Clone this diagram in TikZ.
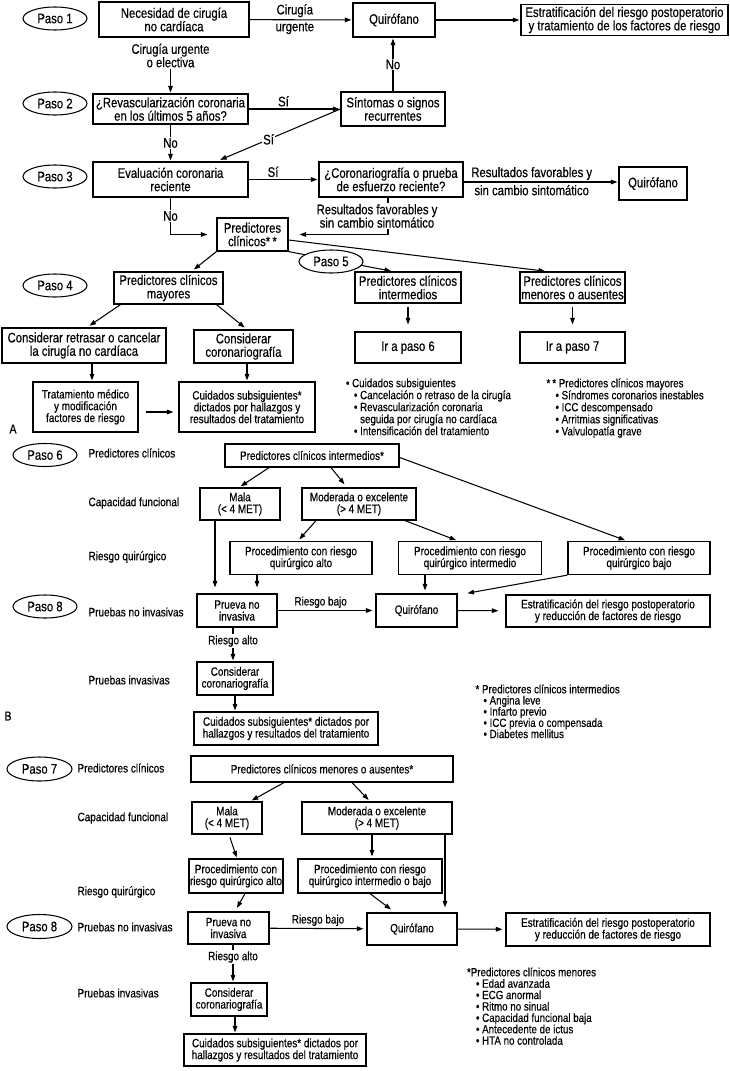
\documentclass[tikz,border=0pt]{standalone}
\usepackage{fontspec}
\setmainfont[FakeStretch=0.82,FakeBold=0.4]{Liberation Sans}
\usetikzlibrary{arrows.meta,shapes.geometric,calc}
\newcommand{\fA}{\fontsize{13.8}{13.4}\selectfont}
\newcommand{\fB}{\fontsize{12.1}{11.8}\selectfont}
\newcommand{\fS}{\fontsize{12.2}{13}\selectfont}
\newcommand{\fL}{\fontsize{11.9}{12}\selectfont}
\newcommand{\fM}{\fontsize{11.9}{11.2}\selectfont}
\begin{document}
\begin{tikzpicture}[x=1pt,y=-1pt,line width=1.05pt,
  arr/.style={-{Triangle[length=6.5pt,width=4.6pt]},shorten >=1pt},
  boxA/.style 2 args={draw,line width=1.2pt,align=center,inner sep=1pt,minimum width=#1pt,minimum height=#2pt,font=\fA},
  boxB/.style 2 args={draw,line width=1.2pt,align=center,inner sep=1pt,minimum width=#1pt,minimum height=#2pt,font=\fB},
  paso/.style={draw,ellipse,line width=1.05pt,fill=white,inner sep=0pt,minimum width=64pt,minimum height=23pt,font=\fA},
  lblA/.style={font=\fA,align=center,inner sep=1pt},
  lblB/.style={font=\fB,align=center,inner sep=1pt},
  side/.style={font=\fS,anchor=west,inner sep=0pt},
  lst/.style={font=\fL,align=left,anchor=north west,inner sep=0pt}]
\fill[white] (0,0) rectangle (730,1071);
\useasboundingbox (0,0) rectangle (730,1071);

% ---------------- Part A ----------------
\node[paso] (p1) at (55,18.5) {Paso 1};
\node[boxA={150}{35}] (nec) at (174,19.5) {Necesidad de cirugía\\no cardíaca};
\node[boxA={82}{34}] (q1) at (394,20) {Quirófano};
\node[boxA={207}{31}] (est1) at (624.5,20) {Estratificación del riesgo postoperatorio\\y tratamiento de los factores de riesgo};
\draw[arr] (nec) -- (q1) node[lblA,pos=0.44,above=1pt]{Cirugía} node[lblA,pos=0.44,below=1pt]{urgente};
\draw[arr] (q1) -- (est1);
\node[lblA] (l1) at (170.5,55.5) {Cirugía urgente\\o electiva};

\node[paso] (p2) at (55,103.5) {Paso 2};
\node[boxA={155}{30}] (rev) at (170.5,109) {¿Revascularización coronaria\\en los últimos 5 años?};
\node[boxA={104}{34}] (sin) at (393,109) {Síntomas o signos\\recurrentes};
\draw[arr] (l1.south) -- (rev.north);
\draw[arr] (rev) -- (sin) node[lblA,pos=0.38,above=1pt]{Sí};
\draw[arr] (sin.north) -- (sin.north |- q1.south) node[lblA,midway,fill=white]{No};

\node[paso] (p3) at (55,176.5) {Paso 3};
\node[boxA={155}{35}] (eva) at (170.5,179.5) {Evaluación coronaria\\reciente};
\node[boxA={144}{35}] (cor) at (391,179.5) {¿Coronariografía o prueba\\de esfuerzo reciente?};
\node[boxA={68}{33}] (q2) at (653,183.5) {Quirófano};
\draw[arr,shorten >=4pt] (sin.west) -- ([xshift=46pt]eva.north) node[lblA,pos=0.58,fill=white]{Sí};
\draw[arr] (rev) -- (eva) node[lblA,midway,fill=white]{No};
\draw[arr] (eva) -- (cor) node[lblA,pos=0.35,above=1pt]{Sí};
\coordinate (c1) at ([yshift=-2.5pt]cor.east);
\draw[arr] (c1) -- (c1 -| q2.west) node[lblA,pos=0.44,above=0.5pt]{Resultados favorables y} node[lblA,pos=0.44,below=1.5pt]{sin cambio sintomático};

\node[boxA={71}{33}] (pc) at (252.5,234.5) {Predictores\\clínicos*\,*};
\draw[arr,shorten >=11pt] ([xshift=-3pt]cor.south) |- (pc.east);
\node[lblA,fill=white] (l2) at (377,216) {Resultados favorables y\\sin cambio sintomático};
\draw[arr,shorten >=9pt] (eva.south) |- (pc.west) node[lblA,pos=0.25,fill=white]{No};

\node[boxA={109}{32}] (may) at (168.5,288) {Predictores clínicos\\mayores};
\node[boxA={106}{31}] (int) at (408,287.5) {Predictores clínicos\\intermedios};
\node[boxA={105}{31}] (men) at (572.5,287.5) {Predictores clínicos\\menores o ausentes};
\draw[arr,shorten >=3pt] (pc.south west) -- ([xshift=23pt]may.north);
\draw[arr,shorten >=2pt] ([yshift=-5.5pt]pc.east) -- ([xshift=-25.5pt]men.north);
\draw[arr,shorten >=2pt] (pc.south east) -- ([xshift=-15pt]int.north);
\node[paso] (p5) at (331,261.5) {Paso 5};
\node[paso] (p4) at (55,285.5) {Paso 4};

\node[boxA={106}{31}] (ir6) at (408,347.5) {Ir a paso 6};
\node[boxA={105}{31}] (ir7) at (572.5,347.5) {Ir a paso 7};
\draw[arr,shorten <=3pt,shorten >=7pt] (int) -- (ir6);
\draw[arr,shorten <=3pt,shorten >=7pt] (men) -- (ir7);

\node[boxA={164}{35}] (ret) at (84,345.5) {Considerar retrasar o cancelar\\la cirugía no cardíaca};
\node[boxA={99}{33}] (ccor) at (243.5,346.5) {Considerar\\coronariografía};
\draw[arr,shorten >=3pt] ([xshift=-48pt]may.south) -- ([xshift=3pt]ret.north);
\draw[arr,shorten >=3pt] ([xshift=48pt]may.south) -- ([xshift=3.5pt]ccor.north);

\node[boxB={105}{50}] (trat) at (85.5,407) {Tratamiento médico\\y modificación\\factores de riesgo};
\node[boxB={136}{50}] (cuid) at (247,407) {Cuidados subsiguientes*\\dictados por hallazgos y\\resultados del tratamiento};
\draw[arr] ([xshift=8pt]ret.south) -- ([xshift=6.5pt]trat.north);
\draw[arr] ([xshift=3.5pt]ccor.south) -- (cuid.north);
\draw[arr,shorten <=7pt,shorten >=5pt] ([yshift=-5pt]trat.east) -- ([yshift=-5pt]cuid.west);

\node[font=\fontsize{13}{13}\selectfont,inner sep=0pt] (labA) at (13,429) {A};

\node[lst] (lsa) at (345.5,378) {• Cuidados subsiguientes\\
\hspace*{8pt}• Cancelación o retraso de la cirugía\\
\hspace*{8pt}• Revascularización coronaria\\
\hspace*{8pt}\phantom{• }seguida por cirugía no cardíaca\\
\hspace*{8pt}• Intensificación del tratamiento};
\node[lst] (lsb) at (546,378) {*\,* Predictores clínicos mayores\\
\hspace*{9pt}• Síndromes coronarios inestables\\
\hspace*{9pt}• ICC descompensado\\
\hspace*{9pt}• Arritmias significativas\\
\hspace*{9pt}• Valvulopatía grave};

% ---------------- Part B ----------------
\node[paso] (p6) at (45,455) {Paso 6};
\node[side] (sb1) at (88,453) {Predictores clínicos};
\node[side] (sb2) at (88,503) {Capacidad funcional};
\node[side] (sb3) at (88,557) {Riesgo quirúrgico};
\node[side] (sb4) at (88,612) {Pruebas no invasivas};
\node[side] (sb5) at (88,680) {Pruebas invasivas};

\node[boxB={174}{23}] (pci) at (312,455.5) {Predictores clínicos intermedios*};
\node[boxB={80}{32}] (malaB) at (240,504) {Mala\\(< 4 MET)};
\node[boxB={114}{32}] (modB) at (359,504) {Moderada o excelente\\(> 4 MET)};
\node[boxB={142}{33}] (paltB) at (301,558) {Procedimiento con riesgo\\quirúrgico alto};
\node[boxB={143}{33}] (pintB) at (470,558) {Procedimiento con riesgo\\quirúrgico intermedio};
\node[boxB={142}{33}] (pbajB) at (639,558) {Procedimiento con riesgo\\quirúrgico bajo};
\node[paso] (p8b) at (45,606.5) {Paso 8};
\node[boxB={80}{33}] (pruB) at (237,610.5) {Prueva no\\invasiva};
\node[boxB={81}{33}] (qB) at (416.5,610.5) {Quirófano};
\node[boxB={204}{32}] (estB) at (608,611) {Estratificación del riesgo postoperatorio\\y reducción de factores de riesgo};
\node[boxB={76}{33}] (ccorB) at (235,678.5) {Considerar\\coronariografía};
\node[boxB={184}{33}] (cuidB) at (286,728.5) {Cuidados subsiguientes* dictados por\\hallazgos y resultados del tratamiento};

\draw[arr,shorten >=2pt] ([xshift=-43pt]pci.south) -- ([xshift=-1pt]malaB.north);
\draw[arr,shorten >=4pt] ([xshift=19pt]pci.south) -- ([xshift=-12pt]modB.north);
\draw[arr,shorten >=2pt] ([yshift=-2pt]pci.east) -- ([xshift=-12pt]pbajB.north);
\draw[arr,shorten >=2pt] ([xshift=-43pt]modB.south) -- ([xshift=-3pt]paltB.north);
\draw[arr,shorten >=2pt] ([xshift=46pt]modB.south) -- ([xshift=-12pt]pintB.north);
\draw[arr,shorten >=6pt] ([xshift=-25pt]malaB.south) -- ([xshift=-22pt]pruB.north);
\draw[arr,shorten >=6pt] ([xshift=-44pt]paltB.south) -- ([xshift=20pt]pruB.north);
\draw[arr,shorten >=3pt] (pruB) -- (qB) node[lblB,pos=0.44,above=1pt]{Riesgo bajo};
\draw[arr,shorten >=3pt] ([xshift=-45pt]pintB.south) -- ([xshift=8.5pt]qB.north);
\draw[arr] (pbajB.south west) -- ([xshift=50pt]qB.north);
\draw[arr,shorten >=7pt] (qB) -- (estB);
\draw[arr] ([xshift=-4pt]pruB.south) -- ([xshift=-2pt]ccorB.north) node[lblB,pos=0.4,fill=white]{Riesgo alto};
\draw[arr] (ccorB.south) -- ([xshift=-51pt]cuidB.north);

\node[font=\fontsize{13}{13}\selectfont,inner sep=0pt] (labB) at (8,716) {B};

\node[lst,font=\fM] (lsc) at (475,684) {* Predictores clínicos intermedios\\
\hspace*{8pt}• Angina leve\\
\hspace*{8pt}• Infarto previo\\
\hspace*{8pt}• ICC previa o compensada\\
\hspace*{8pt}• Diabetes mellitus};

% ---------------- Part C ----------------
\node[paso,minimum width=65pt,minimum height=24pt] (p7) at (39.5,769) {Paso 7};
\node[side] (sc1) at (77,768) {Predictores clínicos};
\node[side] (sc2) at (77,818) {Capacidad funcional};
\node[side] (sc3) at (77,892) {Riesgo quirúrgico};
\node[side] (sc4) at (77,927) {Pruebas no invasivas};
\node[side] (sc5) at (77,993) {Pruebas invasivas};

\node[boxB={262}{26}] (pcm) at (322,769) {Predictores clínicos menores o ausentes*};
\node[boxB={70}{32}] (malaC) at (227,818) {Mala\\(< 4 MET)};
\node[boxB={150}{32}] (modC) at (377,818) {Moderada o excelente\\(> 4 MET)};
\node[boxB={94}{34}] (paltC) at (236,876) {Procedimiento con\\riesgo quirúrgico alto};
\node[boxB={144}{34}] (pintC) at (370,876) {Procedimiento con riesgo\\quirúrgico intermedio o bajo};
\node[paso,minimum width=65pt,minimum height=24pt] (p8c) at (39.5,926.5) {Paso 8};
\node[boxB={81}{32}] (pruC) at (228.5,928) {Prueva no\\invasiva};
\node[boxB={90}{32}] (qC) at (412,929) {Quirófano};
\node[boxB={204}{33}] (estC) at (608,929.5) {Estratificación del riesgo postoperatorio\\y reducción de factores de riesgo};
\node[boxB={76}{33}] (ccorC) at (229,999.5) {Considerar\\coronariografía};
\node[boxB={182}{32}] (cuidC) at (275,1050) {Cuidados subsiguientes* dictados por\\hallazgos y resultados del tratamiento};

\draw[arr,shorten >=2pt] ([xshift=-38pt]pcm.south) -- ([xshift=23pt]malaC.north);
\draw[arr,shorten >=2pt] ([xshift=30pt]pcm.south) -- ([xshift=-7pt]modC.north);
\draw[arr,shorten <=3pt] ([xshift=2pt]malaC.south) -- ([xshift=1pt]paltC.north);
\draw[arr,shorten >=2pt] ([xshift=-5pt]modC.south) -- ([xshift=2pt]pintC.north);
\draw[arr,shorten >=5pt] ([xshift=68pt]modC.south) -- ([xshift=33pt]qC.north);
\draw[arr,shorten >=5pt] (pintC.south) -- ([xshift=-17pt]qC.north);
\draw[arr,shorten >=4pt] ([xshift=9pt]paltC.south) -- ([xshift=6.5pt]pruC.north);
\draw[arr,shorten >=3pt] (pruC) -- (qC) node[lblB,midway,above=1pt]{Riesgo bajo};
\draw[arr,shorten >=3pt] (qC) -- (estC);
\draw[arr] ([xshift=4.5pt]pruC.south) -- ([xshift=4pt]ccorC.north) node[lblB,pos=0.33,fill=white]{Riesgo alto};
\draw[arr] ([xshift=6pt]ccorC.south) -- ([xshift=-40pt]cuidC.north);

\node[lst,font=\fontsize{11.9}{11.4}\selectfont] (lsd) at (466.5,967) {*Predictores clínicos menores\\
\hspace*{9pt}• Edad avanzada\\
\hspace*{9pt}• ECG anormal\\
\hspace*{9pt}• Ritmo no sinual\\
\hspace*{9pt}• Capacidad funcional baja\\
\hspace*{9pt}• Antecedente de ictus\\
\hspace*{9pt}• HTA no controlada};
\end{tikzpicture}
\end{document}
